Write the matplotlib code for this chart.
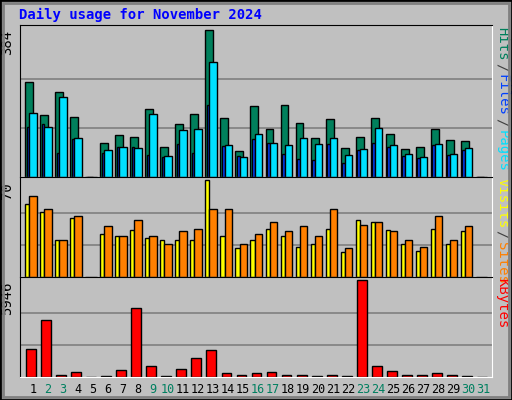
import numpy as np
import matplotlib
matplotlib.use("Agg")
from matplotlib import pyplot as plt
from matplotlib.patches import Rectangle

days = list(range(1, 32))
weekend = [2, 3, 9, 10, 16, 17, 23, 24, 30, 31]

hits = [249, 162, 223, 157, 0, 90, 110, 105, 178, 79, 139, 165, 384, 155, 69, 186,
        126, 189, 142, 103, 152, 76, 105, 155, 113, 74, 79, 126, 97, 95, 0]
files = [168, 131, 209, 103, 0, 71, 79, 76, 165, 56, 123, 126, 301, 84, 53, 113,
         90, 84, 103, 87, 103, 58, 74, 129, 84, 61, 53, 87, 61, 76, 0]
pages = [131, 139, 63, 100, 0, 63, 79, 79, 58, 53, 87, 63, 189, 82, 56, 100,
         90, 61, 48, 45, 87, 37, 71, 90, 79, 56, 50, 84, 58, 71, 0]
visits = [53, 47, 27, 43, 0, 31, 30, 34, 28, 27, 27, 27, 70, 30, 21, 27,
          35, 30, 22, 24, 35, 18, 41, 40, 34, 24, 19, 35, 24, 33, 0]
sites = [59, 49, 27, 44, 0, 37, 30, 41, 30, 24, 33, 35, 49, 49, 24, 31,
         40, 33, 37, 30, 49, 21, 38, 40, 33, 27, 22, 44, 27, 37, 0]
kbytes = [1714, 3537, 130, 325, 0, 87, 412, 4253, 673, 87, 477, 1193, 1649, 217, 130, 217,
          282, 130, 130, 87, 130, 87, 5946, 673, 347, 130, 130, 217, 130, 87, 0]

BG = "#c0c0c0"
fig = plt.figure(figsize=(5.12, 4.0), dpi=100, facecolor=BG)
fig.patches.append(Rectangle((0, 0), 1, 1, transform=fig.transFigure, fill=False,
                             edgecolor="black", lw=2))
fig.patches.append(Rectangle((0.006, 0.008), 0.988, 0.984, transform=fig.transFigure, fill=False,
                             edgecolor="#808080", lw=2))
mono = "DejaVu Sans Mono"
x = np.array(days)

def panel(bottom, height, top, labels):
    ax = fig.add_axes([0.039, bottom, 0.921, height], facecolor=BG)
    ax.set_xlim(0.15, 31.55)
    ax.set_ylim(0, top * 1.035)
    for f in (1/3, 2/3):
        ax.axhline(top * f, color="#808080", lw=1.2, zorder=0)
    ax.set_xticks([]); ax.set_yticks([])
    for s in ax.spines.values():
        s.set_color("black")
    ax.spines["bottom"].set_color("white")
    ax.spines["right"].set_color("white")
    ax.text(-0.012, 1 - 0.012 / height, str(top), transform=ax.transAxes, rotation=90,
            ha="right", va="top", family=mono, fontsize=10)
    # right side label, reading top to bottom
    yy = 0.99
    for txt, col in labels:
        ax.text(1.008, yy, txt, transform=ax.transAxes, rotation=270, ha="left", va="top",
                family=mono, fontsize=10, color=col)
        yy -= (len(txt) + 0.4) * 0.0205 / height
    return ax

kw = dict(edgecolor="black", linewidth=1, align="edge")
ax1 = panel(0.5575, 0.38, 384, [("Hits", "#00805c"), ("/", "#404040"), ("Files", "#0040ff"),
                                ("/", "#404040"), ("Pages", "#00e0ff")])
ax1.bar(x - 0.5, hits, 0.53, color="#00805c", **kw)
ax1.bar(x - 0.41, pages, 0.18, color="#0040ff", **kw)
ax1.bar(x - 0.23, files, 0.49, color="#00e0ff", **kw)

ax2 = panel(0.3075, 0.25, 70, [("Visits", "#ffff00"), ("/", "#404040"), ("Sites", "#ff8000")])
ax2.bar(x - 0.5, visits, 0.27, color="#ffff00", **kw)
ax2.bar(x - 0.23, sites, 0.49, color="#ff8000", **kw)

ax3 = panel(0.0575, 0.25, 5946, [("KBytes", "#ff0000")])
ax3.bar(x - 0.43, kbytes, 0.66, color="#ff0000", **kw)
for d in days:
    ax3.text(d, -0.06, str(d), transform=ax3.get_xaxis_transform(), ha="center", va="top",
             family=mono, fontsize=8.5, color="#008060" if d in weekend else "black")

fig.text(0.037, 0.962, "Daily usage for November 2024", color="#0000ff", family=mono,
         fontweight="bold", fontsize=10, ha="left", va="center")
fig.savefig("out.png", dpi=100, facecolor=BG)
